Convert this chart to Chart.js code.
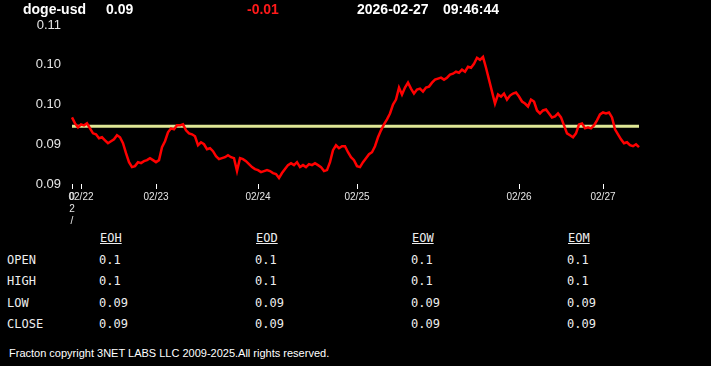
<!DOCTYPE html>
<html>
<head>
<meta charset="utf-8">
<script src="https://cdn.jsdelivr.net/npm/chart.js@4"></script>
<style>
  body { margin: 0; background: #000; width: 711px; height: 366px; overflow: hidden; position: relative; font-family: "Liberation Sans", Arial, sans-serif; }
  .hdr { position: absolute; top: 1px; font: bold 14px "Liberation Sans", Arial, sans-serif; color: #fff; line-height: 16px; }
  .cell { position: absolute; font: 12px "DejaVu Sans Mono", monospace; color: #eee; line-height: 16px; white-space: pre; }
  .colhead { text-decoration: underline; }
  #footer { position: absolute; left: 9px; top: 347px; font: 11px "Liberation Sans", Arial, sans-serif; color: #fff; }
</style>
</head>
<body>
<canvas id="priceChart" width="711" height="228"></canvas>

<span class="hdr" style="left:23px">doge-usd</span>
<span class="hdr" style="left:106px">0.09</span>
<span class="hdr" style="left:247px; color:#ff1a1a">-0.01</span>
<span class="hdr" style="left:357px">2026-02-27</span>
<span class="hdr" style="left:443px">09:46:44</span>

<div id="statTable"></div>
<div id="footer">Fracton copyright 3NET LABS LLC 2009-2025.All rights reserved.</div>

<script>
// price series (left to right)
const priceData = [
  0.0967, 0.0961, 0.0957, 0.0960, 0.0959, 0.0961, 0.0956, 0.0951, 0.0950, 0.0946,
  0.0947, 0.0944, 0.0941, 0.0943, 0.0945, 0.0949, 0.0947, 0.0941, 0.0931, 0.0922,
  0.0917, 0.0918, 0.0922, 0.0921, 0.0923, 0.0924, 0.0926, 0.0924, 0.0922, 0.0924,
  0.0937, 0.0943, 0.0952, 0.0956, 0.0955, 0.0959, 0.0959, 0.0960, 0.0954, 0.0951,
  0.0950, 0.0948, 0.0939, 0.0942, 0.0940, 0.0935, 0.0936, 0.0933, 0.0928, 0.0925,
  0.0926, 0.0927, 0.0929, 0.0927, 0.0926, 0.0913, 0.0926, 0.0925, 0.0923, 0.0920,
  0.0917, 0.0915, 0.0914, 0.0912, 0.0913, 0.0914, 0.0913, 0.0911, 0.0910, 0.0906,
  0.0911, 0.0915, 0.0919, 0.0921, 0.0919, 0.0922, 0.0917, 0.0919, 0.0917, 0.0920,
  0.0919, 0.0921, 0.0919, 0.0917, 0.0913, 0.0914, 0.0922, 0.0934, 0.0939, 0.0936,
  0.0938, 0.0938, 0.0932, 0.0927, 0.0924, 0.0918, 0.0917, 0.0922, 0.0926, 0.0930,
  0.0932, 0.0938, 0.0947, 0.0954, 0.0960, 0.0965, 0.0971, 0.0980, 0.0985, 0.0997,
  0.0990, 0.0997, 0.1002, 0.0996, 0.0991, 0.0995, 0.0996, 0.0993, 0.0997, 0.0998,
  0.1002, 0.1005, 0.1006, 0.1007, 0.1005, 0.1007, 0.1010, 0.1011, 0.1013, 0.1012,
  0.1015, 0.1013, 0.1018, 0.1017, 0.1021, 0.1027, 0.1025, 0.1028, 0.1017, 0.1005,
  0.0993, 0.0981, 0.0990, 0.0988, 0.0991, 0.0985, 0.0989, 0.0991, 0.0992, 0.0988,
  0.0983, 0.0981, 0.0978, 0.0985, 0.0983, 0.0974, 0.0971, 0.0974, 0.0975, 0.0971,
  0.0967, 0.0968, 0.0971, 0.0967, 0.0959, 0.0951, 0.0949, 0.0947, 0.0951, 0.0960,
  0.0961, 0.0956, 0.0957, 0.0956, 0.0959, 0.0964, 0.0970, 0.0972, 0.0971, 0.0972,
  0.0967, 0.0955, 0.0950, 0.0945, 0.0941, 0.0942, 0.0939, 0.0938, 0.0940, 0.0937
];

// reference level (yellow line)
const openLevel = 0.0958;

// x tick positions (point index) and their labels
const tickIdx = [0, 3, 28, 62, 95, 149, 177];
const tickText = [["0", "2", "/", "2", "2"], "02/22", "02/23", "02/24", "02/25", "02/26", "02/27"];

// y ticks
const yTicks = [0.090, 0.094, 0.098, 0.102, 0.106];

// stats table
const rowNames = ["OPEN", "HIGH", "LOW", "CLOSE"];
const colNames = ["EOH", "EOD", "EOW", "EOM"];
const eohVals = ["0.1", "0.1", "0.09", "0.09"];
const eodVals = ["0.1", "0.1", "0.09", "0.09"];
const eowVals = ["0.1", "0.1", "0.09", "0.09"];
const eomVals = ["0.1", "0.1", "0.09", "0.09"];

// build labels: blank except at tick points
const xLabels = priceData.map(() => "");
tickIdx.forEach((idx, i) => { xLabels[idx] = tickText[i]; });

const ctx = document.getElementById("priceChart");
new Chart(ctx, {
  type: "line",
  data: {
    labels: xLabels,
    datasets: [
      {
        data: priceData,
        borderColor: "#ff0000",
        borderWidth: 2.5,
        pointRadius: 0,
        tension: 0,
      },
      {
        data: priceData.map(() => openLevel),
        borderColor: "#dfe795",
        borderWidth: 3,
        pointRadius: 0,
      },
    ],
  },
  options: {
    responsive: false,
    animation: false,
    layout: { padding: { top: 25, right: 72, bottom: 0, left: 0 } },
    plugins: { legend: { display: false }, tooltip: { enabled: false } },
    scales: {
      x: {
        grid: { display: true, drawOnChartArea: false, drawTicks: true, tickLength: 5, color: "#ffffff" },
        border: { display: false },
        ticks: {
          autoSkip: false,
          maxRotation: 0,
          padding: 2,
          color: "#e6e6e6",
          font: { family: "Liberation Sans", size: 10, lineHeight: 1.2 },
        },
        afterBuildTicks: (scale) => {
          scale.ticks = scale.ticks.filter((t) => tickIdx.includes(t.value));
        },
        afterFit: (scale) => { scale.height = 44; },
      },
      y: {
        min: 0.090,
        max: 0.106,
        grid: { display: false, drawTicks: false },
        border: { display: false },
        ticks: {
          padding: 11,
          color: "#e6e6e6",
          font: { family: "Liberation Sans", size: 13 },
          callback: (v) => Number(v).toFixed(2),
        },
        afterBuildTicks: (scale) => {
          scale.ticks = yTicks.map((v) => ({ value: v }));
        },
        afterFit: (scale) => { scale.width = 72; },
      },
    },
  },
});

// stats table under the chart
const table = document.getElementById("statTable");
const colX = [100, 256, 412, 568];
const rowY = [230, 251.5, 273, 294.5, 316];
const colVals = [eohVals, eodVals, eowVals, eomVals];

function addCell(text, x, y, cls) {
  const d = document.createElement("div");
  d.className = "cell" + (cls ? " " + cls : "");
  d.style.left = x + "px";
  d.style.top = y + "px";
  d.textContent = text;
  table.appendChild(d);
}

colNames.forEach((name, c) => addCell(name, colX[c], rowY[0], "colhead"));
rowNames.forEach((name, r) => {
  addCell(name, 7, rowY[r + 1]);
  colVals.forEach((vals, c) => addCell(vals[r], colX[c] - 1, rowY[r + 1]));
});
</script>
</body>
</html>
